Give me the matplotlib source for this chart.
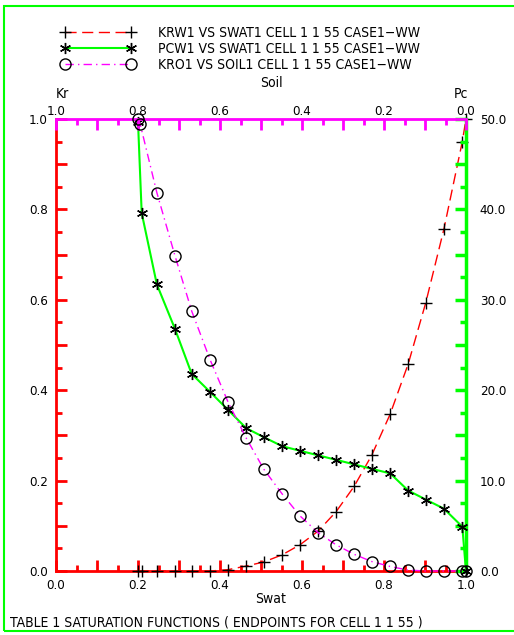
import matplotlib
matplotlib.use("Agg")
import matplotlib.pyplot as plt
from matplotlib import font_manager as fm
from matplotlib.ticker import MultipleLocator, FuncFormatter
from matplotlib.patches import Rectangle

# ---------------- data ----------------
swat = [0.200, 0.209, 0.246, 0.290, 0.331, 0.376, 0.420, 0.464, 0.507, 0.552, 0.595,
        0.639, 0.683, 0.727, 0.770, 0.815, 0.859, 0.902, 0.946, 0.991, 1.000]
krw = [0.0, 0.0, 0.0, 0.0, 0.0, 0.0, 0.003, 0.011, 0.020, 0.036, 0.058,
       0.088, 0.131, 0.187, 0.256, 0.347, 0.458, 0.594, 0.756, 0.950, 1.000]
pcw = [49.7, 39.6, 31.7, 26.8, 21.8, 19.8, 17.8, 15.8, 14.8, 13.8, 13.3,
       12.8, 12.3, 11.8, 11.3, 10.8, 8.9, 7.9, 6.9, 4.9, 0.0]
soil = [0.800, 0.795, 0.754, 0.710, 0.669, 0.624, 0.580, 0.536, 0.493, 0.448, 0.405,
        0.361, 0.317, 0.273, 0.230, 0.185, 0.141, 0.098, 0.054, 0.009, 0.000]
kro = [1.000, 0.990, 0.837, 0.698, 0.575, 0.467, 0.373, 0.294, 0.225, 0.170, 0.122,
       0.085, 0.058, 0.037, 0.021, 0.010, 0.002, 0.0, 0.0, 0.0, 0.0]

legend_labels = ["KRW1 VS SWAT1 CELL 1 1 55 CASE1\u2212WW",
                 "PCW1 VS SWAT1 CELL 1 1 55 CASE1\u2212WW",
                 "KRO1 VS SOIL1 CELL 1 1 55 CASE1\u2212WW"]
title_text = "TABLE 1 SATURATION FUNCTIONS ( ENDPOINTS FOR CELL 1 1 55 )"

# ---------------- font ----------------
names = {f.name for f in fm.fontManager.ttflist}
if "Liberation Sans Narrow" in names:
    plt.rcParams["font.family"] = ["Liberation Sans Narrow", "DejaVu Sans"]
else:
    plt.rcParams["font.family"] = ["DejaVu Sans"]
    plt.rcParams["font.stretch"] = "condensed"

RED = "#ff0000"
GREEN = "#00ff00"
MAG = "#ff00ff"

W, H = 514, 635
fig = plt.figure(figsize=(W / 100, H / 100), dpi=100)
L, R, T, B = 56, 466, 119, 571
ax = fig.add_axes([L / W, (H - B) / H, (R - L) / W, (B - T) / H])
ax2 = ax.twinx()
ax3 = ax.twiny()

fs = 10
tickfs = 9.5

# main axis: Kr vs Swat
ax.set_xlim(0, 1)
ax.set_ylim(0, 1)
for s in ["top", "right"]:
    ax.spines[s].set_visible(False)
for s in ["left", "bottom"]:
    ax.spines[s].set_color(RED)
    ax.spines[s].set_linewidth(2)

def lab(v, pos):
    k = round(v / 0.1)
    return f"{v:.1f}" if k % 2 == 0 else ""

ax.xaxis.set_major_locator(MultipleLocator(0.1))
ax.xaxis.set_minor_locator(MultipleLocator(0.05))
ax.yaxis.set_major_locator(MultipleLocator(0.1))
ax.yaxis.set_minor_locator(MultipleLocator(0.05))
ax.xaxis.set_major_formatter(FuncFormatter(lab))
ax.yaxis.set_major_formatter(FuncFormatter(lab))
ax.tick_params(axis="both", which="major", direction="in", length=8, width=2,
               color=RED, labelsize=tickfs)
ax.tick_params(axis="both", which="minor", direction="in", length=4, width=2, color=RED)
ax.tick_params(axis="x", which="major", pad=6)
ax.tick_params(axis="y", which="major", pad=6)

# right axis: Pc
ax2.set_ylim(0, 50)
for s in ["top", "left", "bottom"]:
    ax2.spines[s].set_visible(False)
ax2.spines["right"].set_color(GREEN)
ax2.spines["right"].set_linewidth(2.5)
ax2.yaxis.set_major_locator(MultipleLocator(5))
ax2.yaxis.set_minor_locator(MultipleLocator(2.5))
ax2.yaxis.set_major_formatter(FuncFormatter(lambda v, p: f"{v:.1f}" if round(v / 5) % 2 == 0 else ""))
ax2.tick_params(axis="y", which="major", direction="in", length=8, width=2.5,
                color=GREEN, labelsize=tickfs, pad=10)
ax2.tick_params(axis="y", which="minor", direction="in", length=4, width=2.5, color=GREEN)

# top axis: Soil reversed
ax3.set_xlim(1, 0)
for s in ["left", "right", "bottom"]:
    ax3.spines[s].set_visible(False)
ax3.spines["top"].set_color(MAG)
ax3.spines["top"].set_linewidth(2)
ax3.xaxis.set_major_locator(MultipleLocator(0.1))
ax3.xaxis.set_minor_locator(MultipleLocator(0.05))
ax3.xaxis.set_major_formatter(FuncFormatter(lab))
ax3.tick_params(axis="x", which="major", direction="in", length=8, width=2,
                color=MAG, labelsize=tickfs, pad=1)
ax3.tick_params(axis="x", which="minor", direction="in", length=4, width=2, color=MAG)

# data
l1, = ax.plot(swat, krw, color=RED, lw=1, dashes=(8, 4), marker="+", ms=8,
              mec="black", mew=1, clip_on=False, zorder=5)
l2, = ax2.plot(swat, pcw, color=GREEN, lw=1.5, marker=(6, 2, 0), ms=8,
               mec="black", mew=1, clip_on=False, zorder=5)
l3, = ax3.plot(soil, kro, color=MAG, lw=1, dashes=(6, 3, 1, 3), marker="o", ms=8,
               mfc="none", mec="black", mew=1, clip_on=False, zorder=5)

# legend
fig.legend([l1, l2, l3], legend_labels, loc="upper left",
           bbox_to_anchor=(61 / W, 1 - 26 / H), frameon=False, numpoints=2,
           handlelength=5.36, handletextpad=1.6, labelspacing=0.14,
           fontsize=fs, borderpad=0, borderaxespad=0)

# axis annotations
def ftext(x, y, s, **kw):
    fig.text(x / W, 1 - y / H, s, fontsize=fs, **kw)

ftext(62, 94, "Kr", ha="center", va="center")
ftext(461, 94, "Pc", ha="center", va="center")
ftext(271, 83, "Soil", ha="center", va="center")
ftext(271, 599, "Swat", ha="center", va="center")
ftext(10, 622, title_text, ha="left", va="center")

# outer green frame
fig.patches.append(Rectangle((4.3 / W, 1 - 631 / H), 1.2, (631 - 5.7) / H,
                             transform=fig.transFigure, fill=False,
                             edgecolor=GREEN, lw=1.5))

fig.savefig("out.png", dpi=100)
